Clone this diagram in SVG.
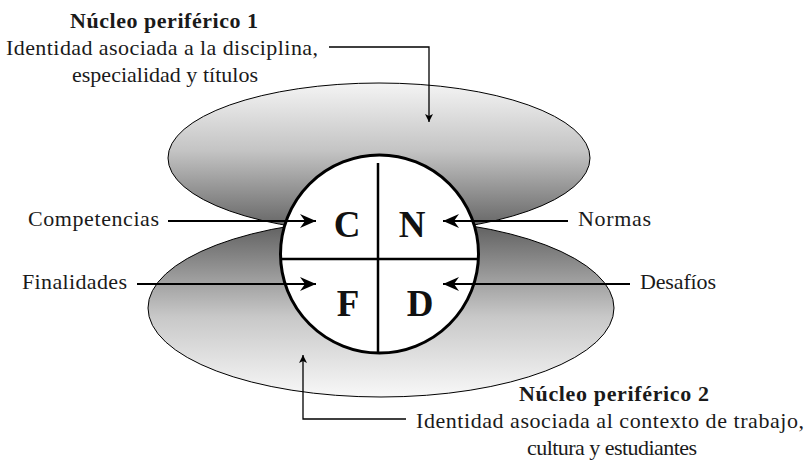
<svg xmlns="http://www.w3.org/2000/svg" width="810" height="464" viewBox="0 0 810 464">
<defs>
<linearGradient id="gTop" x1="0" y1="0" x2="0" y2="1">
<stop offset="0" stop-color="#f4f4f4"/>
<stop offset="0.45" stop-color="#c4c4c4"/>
<stop offset="1" stop-color="#5e5e5e"/>
</linearGradient>
<linearGradient id="gBot" x1="0" y1="0" x2="0" y2="1">
<stop offset="0" stop-color="#5a5a5a"/>
<stop offset="0.55" stop-color="#c8c8c8"/>
<stop offset="1" stop-color="#f8f8f8"/>
</linearGradient>
<marker id="ah" viewBox="0 0 16 14" refX="16" refY="7" markerWidth="16" markerHeight="14" markerUnits="userSpaceOnUse" orient="auto">
<path d="M0,0 L16,7 L0,14 L5,7 Z" fill="#000"/>
</marker>
<marker id="ahs" viewBox="0 0 8 8" refX="8" refY="4" markerWidth="8" markerHeight="8" markerUnits="userSpaceOnUse" orient="auto">
<path d="M0,0 L8,4 L0,8 L2,4 Z" fill="#000"/>
</marker>
</defs>
<style>
.lbl{font-family:"Liberation Serif","Times New Roman",serif;font-size:22px;fill:#1a1a1a}
.ttl{font-family:"Liberation Serif","Times New Roman",serif;font-size:22px;font-weight:bold;fill:#1a1a1a}
.let{font-family:"Liberation Serif","Times New Roman",serif;font-size:37px;font-weight:bold;fill:#111;text-anchor:middle}
.ell{stroke:#000;stroke-width:1}
.arr{stroke:#000;stroke-width:2;fill:none;marker-end:url(#ah)}
.con{stroke:#000;stroke-width:1.3;fill:none;marker-end:url(#ahs)}
</style>
<g id="nucleo1-shape"><ellipse class="ell" cx="379" cy="158" rx="211" ry="75" fill="url(#gTop)"/></g>
<g id="nucleo2-shape"><ellipse class="ell" cx="381" cy="308" rx="233" ry="89" fill="url(#gBot)"/></g>
<g id="core">
<circle cx="379.5" cy="254" r="99" fill="#fff" stroke="#000" stroke-width="3"/>
<line x1="378" y1="163" x2="378" y2="353" stroke="#000" stroke-width="2.5"/>
<line x1="281" y1="259" x2="478" y2="259" stroke="#000" stroke-width="2.5"/>
<text class="let" x="347" y="237">C</text>
<text class="let" x="412" y="237">N</text>
<text class="let" x="348" y="316">F</text>
<text class="let" x="420" y="316">D</text>
</g>
<g id="connectors">
<path class="arr" d="M168,221 H316"/>
<path class="arr" d="M568,221 H443"/>
<path class="arr" d="M137,284 H316"/>
<path class="arr" d="M630,284 H443"/>
<path class="con" d="M329,47 H429 V122"/>
<path class="con" d="M406,419 H303 V355"/>
</g>
<g id="label-competencias"><text class="lbl" x="28" y="226" textLength="131" lengthAdjust="spacing">Competencias</text></g>
<g id="label-normas"><text class="lbl" x="578" y="226" textLength="73" lengthAdjust="spacing">Normas</text></g>
<g id="label-finalidades"><text class="lbl" x="22" y="289" textLength="105" lengthAdjust="spacing">Finalidades</text></g>
<g id="label-desafios"><text class="lbl" x="640" y="289" textLength="76" lengthAdjust="spacing">Desafíos</text></g>
<g id="nucleo1-text" text-anchor="middle">
<text class="ttl" x="164" y="28" textLength="188" lengthAdjust="spacing">Núcleo periférico 1</text>
<text class="lbl" x="162" y="55" textLength="312" lengthAdjust="spacing">Identidad asociada a la disciplina,</text>
<text class="lbl" x="165" y="82" textLength="186" lengthAdjust="spacing">especialidad y títulos</text>
</g>
<g id="nucleo2-text" text-anchor="middle">
<text class="ttl" x="614" y="401" textLength="190" lengthAdjust="spacing">Núcleo periférico 2</text>
<text class="lbl" x="610" y="428" textLength="388" lengthAdjust="spacing">Identidad asociada al contexto de trabajo,</text>
<text class="lbl" x="612" y="455" textLength="170" lengthAdjust="spacing">cultura y estudiantes</text>
</g>
</svg>
